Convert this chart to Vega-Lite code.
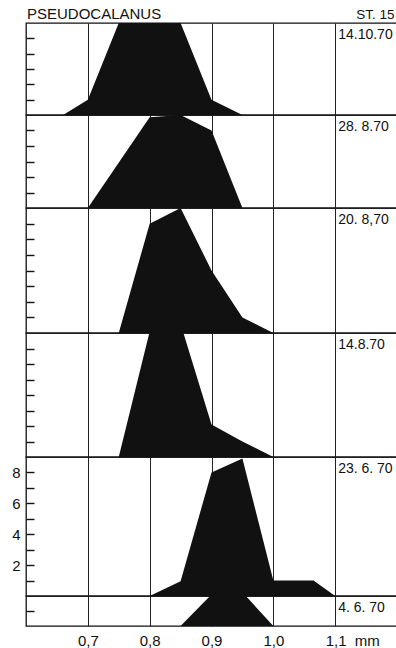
{
  "$schema": "https://vega.github.io/schema/vega-lite/v6.json",
  "padding": {"left": 5, "top": 6, "right": 0, "bottom": 0},
  "spacing": 0,
  "bounds": "flush",
  "background": "white",
  "config": {
    "font": "Liberation Sans",
    "view": {"stroke": "#111", "strokeWidth": 1.3},
    "axisX": {"grid": true, "gridColor": "#222", "gridWidth": 1, "gridOpacity": 1, "labels": false, "ticks": false, "domain": false},
    "axisY": {"grid": false, "domain": false, "tickSize": -8, "tickColor": "#111", "tickWidth": 1.4, "labels": false, "minExtent": 20, "maxExtent": 20},
    "text": {"font": "Liberation Sans", "fill": "#111"}
  },
  "datasets": {
    "p1": [{"size": 0.66, "freq": 0}, {"size": 0.70, "freq": 1.0}, {"size": 0.75, "freq": 6.0}, {"size": 0.80, "freq": 6.0}, {"size": 0.85, "freq": 6.0}, {"size": 0.90, "freq": 1.0}, {"size": 0.95, "freq": 0}],
    "p2": [{"size": 0.70, "freq": 0}, {"size": 0.80, "freq": 5.85}, {"size": 0.85, "freq": 6.0}, {"size": 0.90, "freq": 5.0}, {"size": 0.95, "freq": 0}],
    "p3": [{"size": 0.75, "freq": 0}, {"size": 0.80, "freq": 7.0}, {"size": 0.85, "freq": 8.0}, {"size": 0.90, "freq": 4.0}, {"size": 0.95, "freq": 1.0}, {"size": 1.00, "freq": 0}],
    "p4": [{"size": 0.75, "freq": 0}, {"size": 0.80, "freq": 8.1}, {"size": 0.85, "freq": 8.6}, {"size": 0.90, "freq": 2.1}, {"size": 0.95, "freq": 1.0}, {"size": 1.00, "freq": 0}],
    "p5": [{"size": 0.80, "freq": 0}, {"size": 0.85, "freq": 0.95}, {"size": 0.90, "freq": 8.0}, {"size": 0.95, "freq": 8.9}, {"size": 1.00, "freq": 1.0}, {"size": 1.065, "freq": 1.0}, {"size": 1.10, "freq": 0}],
    "p6": [{"size": 0.85, "freq": 0}, {"size": 0.90, "freq": 2.1}, {"size": 0.95, "freq": 2.25}, {"size": 1.00, "freq": 0}]
  },
  "vconcat": [
    {
      "width": 371, "height": 92,
      "layer": [
        {"data": {"name": "p1"}, "mark": {"type": "area", "color": "#111", "opacity": 1},
         "encoding": {
           "x": {"field": "size", "type": "quantitative", "scale": {"domain": [0.6, 1.2], "nice": false, "zero": false}, "axis": {"title": null, "values": [0.7, 0.8, 0.9, 1.0, 1.1]}},
           "y": {"field": "freq", "type": "quantitative", "scale": {"domain": [0, 6], "nice": false}, "axis": {"values": [1, 2, 3, 4, 5], "title": null}}}},
        {"data": {"values": [{"label": "14.10.70"}]}, "mark": {"type": "text", "align": "left", "baseline": "top", "dx": 3, "dy": 5, "fontSize": 14},
         "encoding": {"x": {"datum": 1.1, "type": "quantitative", "axis": {"title": null, "values": [0.7, 0.8, 0.9, 1.0, 1.1]}}, "y": {"datum": 6, "type": "quantitative", "axis": {"values": [1, 2, 3, 4, 5], "title": null}}, "text": {"field": "label"}}},
        {"data": {"values": [{"label": "ST. 15"}]}, "mark": {"type": "text", "align": "left", "baseline": "alphabetic", "dx": 21, "dy": -4, "fontSize": 13.5},
         "encoding": {"x": {"datum": 1.1, "type": "quantitative", "axis": {"title": null, "values": [0.7, 0.8, 0.9, 1.0, 1.1]}}, "y": {"datum": 6, "type": "quantitative", "axis": {"values": [1, 2, 3, 4, 5], "title": null}}, "text": {"field": "label"}}},
        {"data": {"values": [{"label": "PSEUDOCALANUS"}]}, "mark": {"type": "text", "align": "left", "baseline": "alphabetic", "dx": 1, "dy": -4, "fontSize": 15},
         "encoding": {"x": {"datum": 0.6, "type": "quantitative", "axis": {"title": null, "values": [0.7, 0.8, 0.9, 1.0, 1.1]}}, "y": {"datum": 6, "type": "quantitative", "axis": {"values": [1, 2, 3, 4, 5], "title": null}}, "text": {"field": "label"}}}
      ]
    },
    {
      "width": 371, "height": 93,
      "layer": [
        {"data": {"name": "p2"}, "mark": {"type": "area", "color": "#111", "opacity": 1},
         "encoding": {
           "x": {"field": "size", "type": "quantitative", "scale": {"domain": [0.6, 1.2], "nice": false, "zero": false}, "axis": {"title": null, "values": [0.7, 0.8, 0.9, 1.0, 1.1]}},
           "y": {"field": "freq", "type": "quantitative", "scale": {"domain": [0, 6], "nice": false}, "axis": {"values": [1, 2, 3, 4, 5], "title": null}}}},
        {"data": {"values": [{"label": "28. 8.70"}]}, "mark": {"type": "text", "align": "left", "baseline": "top", "dx": 3, "dy": 5, "fontSize": 14},
         "encoding": {"x": {"datum": 1.1, "type": "quantitative", "axis": {"title": null, "values": [0.7, 0.8, 0.9, 1.0, 1.1]}}, "y": {"datum": 6, "type": "quantitative", "axis": {"values": [1, 2, 3, 4, 5], "title": null}}, "text": {"field": "label"}}}
      ]
    },
    {
      "width": 371, "height": 125,
      "layer": [
        {"data": {"name": "p3"}, "mark": {"type": "area", "color": "#111", "opacity": 1},
         "encoding": {
           "x": {"field": "size", "type": "quantitative", "scale": {"domain": [0.6, 1.2], "nice": false, "zero": false}, "axis": {"title": null, "values": [0.7, 0.8, 0.9, 1.0, 1.1]}},
           "y": {"field": "freq", "type": "quantitative", "scale": {"domain": [0, 8], "nice": false}, "axis": {"values": [1, 2, 3, 4, 5, 6, 7], "title": null}}}},
        {"data": {"values": [{"label": "20. 8,70"}]}, "mark": {"type": "text", "align": "left", "baseline": "top", "dx": 3, "dy": 5, "fontSize": 14},
         "encoding": {"x": {"datum": 1.1, "type": "quantitative", "axis": {"title": null, "values": [0.7, 0.8, 0.9, 1.0, 1.1]}}, "y": {"datum": 8, "type": "quantitative", "axis": {"values": [1, 2, 3, 4, 5, 6, 7], "title": null}}, "text": {"field": "label"}}}
      ]
    },
    {
      "width": 371, "height": 124,
      "layer": [
        {"data": {"name": "p4"}, "mark": {"type": "area", "color": "#111", "opacity": 1},
         "encoding": {
           "x": {"field": "size", "type": "quantitative", "scale": {"domain": [0.6, 1.2], "nice": false, "zero": false}, "axis": {"title": null, "values": [0.7, 0.8, 0.9, 1.0, 1.1]}},
           "y": {"field": "freq", "type": "quantitative", "scale": {"domain": [0, 8], "nice": false}, "axis": {"values": [1, 2, 3, 4, 5, 6, 7], "title": null}}}},
        {"data": {"values": [{"label": "14.8.70"}]}, "mark": {"type": "text", "align": "left", "baseline": "top", "dx": 3, "dy": 5, "fontSize": 14},
         "encoding": {"x": {"datum": 1.1, "type": "quantitative", "axis": {"title": null, "values": [0.7, 0.8, 0.9, 1.0, 1.1]}}, "y": {"datum": 8, "type": "quantitative", "axis": {"values": [1, 2, 3, 4, 5, 6, 7], "title": null}}, "text": {"field": "label"}}}
      ]
    },
    {
      "width": 371, "height": 139,
      "layer": [
        {"data": {"name": "p5"}, "mark": {"type": "area", "color": "#111", "opacity": 1},
         "encoding": {
           "x": {"field": "size", "type": "quantitative", "scale": {"domain": [0.6, 1.2], "nice": false, "zero": false}, "axis": {"title": null, "values": [0.7, 0.8, 0.9, 1.0, 1.1]}},
           "y": {"field": "freq", "type": "quantitative", "scale": {"domain": [0, 9], "nice": false},
                 "axis": {"values": [1, 2, 3, 4, 5, 6, 7, 8], "title": null, "labels": true, "labelExpr": "datum.value % 2 === 0 ? datum.label : ''", "labelFontSize": 15, "labelColor": "#111", "labelPadding": 14, "labelFont": "Liberation Sans"}}}},
        {"data": {"values": [{"label": "23. 6. 70"}]}, "mark": {"type": "text", "align": "left", "baseline": "top", "dx": 3, "dy": 5, "fontSize": 14},
         "encoding": {"x": {"datum": 1.1, "type": "quantitative", "axis": {"title": null, "values": [0.7, 0.8, 0.9, 1.0, 1.1]}}, "y": {"datum": 9, "type": "quantitative",
                 "axis": {"values": [1, 2, 3, 4, 5, 6, 7, 8], "title": null, "labels": true, "labelExpr": "datum.value % 2 === 0 ? datum.label : ''", "labelFontSize": 15, "labelColor": "#111", "labelPadding": 14, "labelFont": "Liberation Sans"}}, "text": {"field": "label"}}}
      ]
    },
    {
      "width": 371, "height": 30,
      "layer": [
        {"data": {"name": "p6"}, "mark": {"type": "area", "color": "#111", "opacity": 1},
         "encoding": {
           "x": {"field": "size", "type": "quantitative", "scale": {"domain": [0.6, 1.2], "nice": false, "zero": false},
                 "axis": {"title": null, "values": [0.7, 0.8, 0.9, 1.0, 1.1], "labels": true, "labelFontSize": 15, "labelColor": "#111", "labelPadding": 7, "labelFont": "Liberation Sans",
                          "labelExpr": "datum.value > 1.05 ? '1,1\u00a0\u00a0mm' : replace(format(datum.value, '.1f'), '.', ',')",
                          "labelAlign": {"condition": {"test": "datum.value > 1.05", "value": "left"}, "value": "center"},
                          "labelOffset": {"condition": {"test": "datum.value > 1.05", "value": -10}, "value": 0}}},
           "y": {"field": "freq", "type": "quantitative", "scale": {"domain": [0, 2], "nice": false}, "axis": {"values": [1], "title": null}}}},
        {"data": {"values": [{"label": "4. 6. 70"}]}, "mark": {"type": "text", "align": "left", "baseline": "top", "dx": 3, "dy": 5, "fontSize": 14},
         "encoding": {"x": {"datum": 1.1, "type": "quantitative",
                 "axis": {"title": null, "values": [0.7, 0.8, 0.9, 1.0, 1.1], "labels": true, "labelFontSize": 15, "labelColor": "#111", "labelPadding": 7, "labelFont": "Liberation Sans",
                          "labelExpr": "datum.value > 1.05 ? '1,1\u00a0\u00a0mm' : replace(format(datum.value, '.1f'), '.', ',')",
                          "labelAlign": {"condition": {"test": "datum.value > 1.05", "value": "left"}, "value": "center"},
                          "labelOffset": {"condition": {"test": "datum.value > 1.05", "value": -10}, "value": 0}}},
                 "y": {"datum": 2, "type": "quantitative", "axis": {"values": [1], "title": null}}, "text": {"field": "label"}}}
      ]
    }
  ]
}
